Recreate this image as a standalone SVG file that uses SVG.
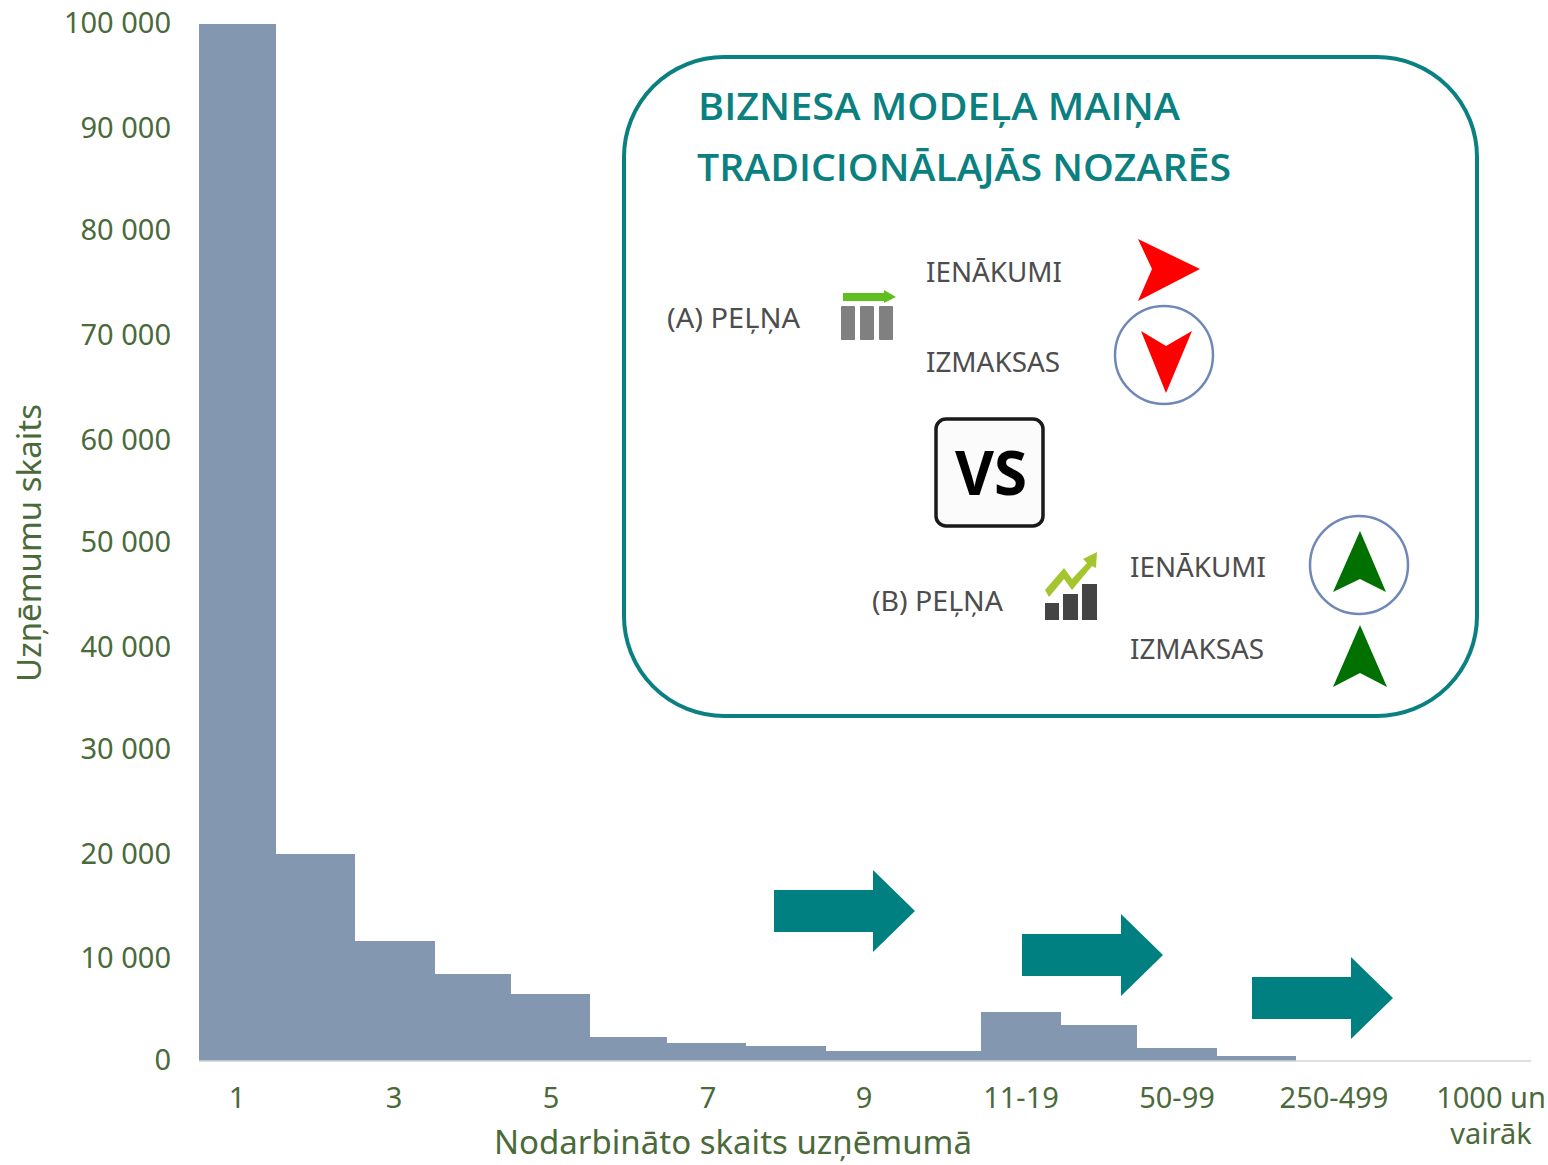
<svg xmlns="http://www.w3.org/2000/svg" width="1548" height="1165" viewBox="0 0 1548 1165">
<defs>
<style>
.ax{font-family:"Noto Sans","DejaVu Sans",sans-serif;fill:#4a6a3a;font-size:29px}
.at{font-size:33px}
.tk{text-anchor:end}
.ct{text-anchor:middle}
.ti{font-family:"Open Sans","Noto Sans",sans-serif;font-weight:600;fill:#0b8080;font-size:38px}
.lb{font-family:"Noto Sans","Open Sans",sans-serif;fill:#4d4d4d;font-size:27.5px}
.ta{fill:#008080}
.ring{fill:none;stroke:#6f88b8;stroke-width:2.5}
</style>
<path id="big" class="ta" d="M0 -21H99V-41L141 0L99 41V21H0Z"/>
</defs>
<rect width="1548" height="1165" fill="#fff"/>
<g id="chart">
<path id="bars" fill="#8497b0" d="M199 1061V24H276V854H355V941H435V974H511V994H590V1037H667V1043H746V1046H826V1051H981V1012H1061V1025H1137V1048H1217V1056H1296V1061Z"/>
<path id="baseline" d="M199 1061H1531" stroke="#d4d4d4" stroke-width="1.5" fill="none"/>
</g>
<g id="y-axis">
<text class="ax tk" x="171" y="33">100 000</text>
<text class="ax tk" x="171" y="138">90 000</text>
<text class="ax tk" x="171" y="240">80 000</text>
<text class="ax tk" x="171" y="345">70 000</text>
<text class="ax tk" x="171" y="450">60 000</text>
<text class="ax tk" x="171" y="552">50 000</text>
<text class="ax tk" x="171" y="657">40 000</text>
<text class="ax tk" x="171" y="759">30 000</text>
<text class="ax tk" x="171" y="864">20 000</text>
<text class="ax tk" x="171" y="968">10 000</text>
<text class="ax tk" x="171" y="1070">0</text>
<text class="ax at ct" transform="translate(41 543) rotate(-90)">Uzņēmumu skaits</text>
</g>
<g id="x-axis">
<text class="ax ct" x="237" y="1108">1</text>
<text class="ax ct" x="394" y="1108">3</text>
<text class="ax ct" x="551" y="1108">5</text>
<text class="ax ct" x="708" y="1108">7</text>
<text class="ax ct" x="864" y="1108">9</text>
<text class="ax ct" x="1021" y="1108">11-19</text>
<text class="ax ct" x="1177" y="1108">50-99</text>
<text class="ax ct" x="1334" y="1108">250-499</text>
<text class="ax ct" x="1491" y="1108">1000 un</text>
<text class="ax ct" x="1491" y="1144">vairāk</text>
<text class="ax at ct" x="733" y="1154">Nodarbināto skaits uzņēmumā</text>
</g>
<g id="panel">
<rect x="624" y="57" width="853" height="659" rx="100" ry="100" fill="#fff" stroke="#0b8080" stroke-width="4"/>
<text class="ti" x="698" y="120" textLength="482" lengthAdjust="spacingAndGlyphs">BIZNESA MODEĻA MAIŅA</text>
<text class="ti" x="697" y="181" textLength="534" lengthAdjust="spacingAndGlyphs">TRADICIONĀLAJĀS NOZARĒS</text>
</g>
<g id="scenario-a">
<text class="lb" x="667" y="328" textLength="133" lengthAdjust="spacingAndGlyphs">(A) PEĻŅA</text>
<path d="M843 293H884V290L896 297L884 303V301H843Z" fill="#5fbf1f"/>
<g fill="#808080"><rect x="841" y="306" width="14" height="34" rx="1"/><rect x="860" y="306" width="14" height="34" rx="1"/><rect x="879" y="306" width="14" height="34" rx="1"/></g>
<text class="lb" x="926" y="282" textLength="136" lengthAdjust="spacingAndGlyphs">IENĀKUMI</text>
<text class="lb" x="926" y="372" textLength="134" lengthAdjust="spacingAndGlyphs">IZMAKSAS</text>
<path id="a-rev" fill="#ff0000" d="M1138 239L1200 269L1138 301L1152 269Z"/>
<circle class="ring" cx="1164" cy="355" r="49"/>
<path id="a-cost" fill="#ff0000" d="M1141 331L1166 346L1192 331L1166 393Z"/>
</g>
<g id="vs">
<rect x="936" y="419" width="107" height="107" rx="10" fill="#fbfbfb" stroke="#1a1a1a" stroke-width="3.5"/>
<text x="991" y="495" text-anchor="middle" font-family="Open Sans,sans-serif" font-weight="700" font-size="60" fill="#000">VS</text>
</g>
<g id="scenario-b">
<text class="lb" x="872" y="611" textLength="131" lengthAdjust="spacingAndGlyphs">(B) PEĻŅA</text>
<path d="M1045 590L1064 568L1072 579L1087 563L1083 559L1097 552L1096 568L1092 566L1072 590L1064 579L1049 597Z" fill="#a4c52e"/>
<g fill="#444"><rect x="1045" y="603" width="14" height="17"/><rect x="1063" y="594" width="15" height="26"/><rect x="1082" y="584" width="15" height="36"/></g>
<text class="lb" x="1130" y="577" textLength="136" lengthAdjust="spacingAndGlyphs">IENĀKUMI</text>
<text class="lb" x="1130" y="659" textLength="134" lengthAdjust="spacingAndGlyphs">IZMAKSAS</text>
<circle class="ring" cx="1359" cy="565" r="49"/>
<path id="b-rev" fill="#007000" d="M1360 531L1386 592L1360 579L1333 592Z"/>
<path id="b-cost" fill="#007000" d="M1360 625L1387 687L1360 673L1333 687Z"/>
</g>
<g id="connectors">
<use href="#big" x="774" y="911"/>
<use href="#big" x="1022" y="955"/>
<use href="#big" x="1252" y="998"/>
</g>
</svg>
